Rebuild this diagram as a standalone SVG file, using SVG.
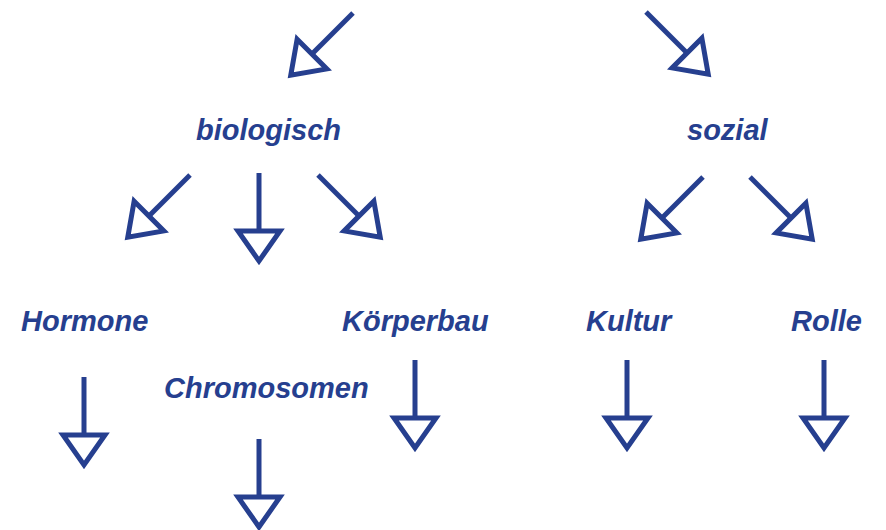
<svg xmlns="http://www.w3.org/2000/svg" width="886" height="530" viewBox="0 0 886 530">
<style>
.lbl{font-family:"Liberation Sans",Arial,sans-serif;font-weight:bold;font-style:italic;font-size:29px;fill:#263f8f}
.arr{fill:none;stroke:#263f8f;stroke-width:5;stroke-linejoin:miter;stroke-miterlimit:10}
</style>
<defs>
<g id="arrow" class="arr">
<line x1="0" y1="0" x2="0" y2="58"/>
<polygon points="-21,58 21,58 0,88"/>
</g>
</defs>
<rect width="886" height="530" fill="#fff"/>
<g id="connectors">
<use href="#arrow" transform="translate(353,13) rotate(45)"/>
<use href="#arrow" transform="translate(646,12) rotate(-45)"/>
<use href="#arrow" transform="translate(190,175) rotate(45)"/>
<use href="#arrow" transform="translate(259,173)"/>
<use href="#arrow" transform="translate(318,175) rotate(-45)"/>
<use href="#arrow" transform="translate(703,177) rotate(45)"/>
<use href="#arrow" transform="translate(750,177) rotate(-45)"/>
<use href="#arrow" transform="translate(84,377)"/>
<use href="#arrow" transform="translate(259,439)"/>
<use href="#arrow" transform="translate(415,360)"/>
<use href="#arrow" transform="translate(627,360)"/>
<use href="#arrow" transform="translate(824,360)"/>
</g>
<g id="biologisch"><text class="lbl" x="196" y="140">biologisch</text></g>
<g id="sozial"><text class="lbl" x="687" y="140">sozial</text></g>
<g id="hormone"><text class="lbl" x="21" y="331">Hormone</text></g>
<g id="chromosomen"><text class="lbl" x="164" y="398">Chromosomen</text></g>
<g id="koerperbau"><text class="lbl" x="342" y="331">Körperbau</text></g>
<g id="kultur"><text class="lbl" x="586" y="331">Kultur</text></g>
<g id="rolle"><text class="lbl" x="791" y="331">Rolle</text></g>
</svg>
